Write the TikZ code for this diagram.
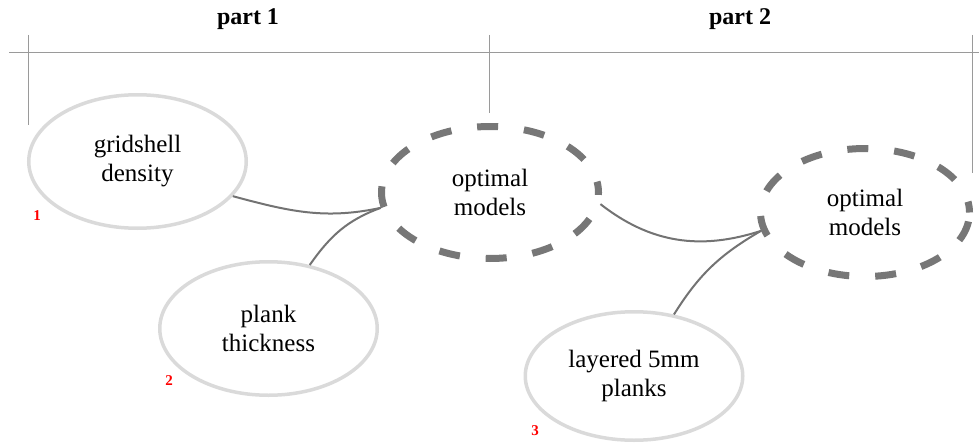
\documentclass[tikz,border=0pt]{standalone}
\usepackage{fontspec}
\setmainfont{Liberation Serif}
\usetikzlibrary{shapes.geometric}
\definecolor{lightring}{HTML}{DADADA}
\definecolor{darkring}{HTML}{777777}
\definecolor{linkgray}{HTML}{737373}
\definecolor{rulegray}{HTML}{9A9A9A}
\begin{document}
\begin{tikzpicture}[x=1pt,y=1pt,
  inputnode/.style={ellipse, draw=lightring, line width=3.5pt, inner sep=0pt,
    minimum width=217.5pt, minimum height=133.5pt, align=center,
    font=\fontsize{25}{29}\selectfont},
  resultnode/.style={ellipse, draw=darkring, line width=7pt, inner sep=0pt,
    dash pattern=on 21pt off 26pt, dash phase=10pt, align=center,
    font=\fontsize{25}{29}\selectfont},
  linkline/.style={draw=linkgray, line width=2pt},
  ruleline/.style={draw=rulegray, line width=0.9pt},
  partlabel/.style={font=\fontsize{24}{28}\selectfont\bfseries},
  numlabel/.style={text=red, font=\fontsize{15}{17}\selectfont\bfseries, inner sep=0pt}
]
\useasboundingbox (0,0) rectangle (979,-444);

% rules
\coordinate (hl) at (9,-52);
\coordinate (hr) at (979,-52);
\coordinate (v1t) at (28,-35);
\coordinate (v1b) at (28,-125);
\coordinate (v2t) at (489,-35);
\coordinate (v2b) at (489,-113);
\coordinate (v3t) at (972,-35);
\coordinate (v3b) at (972,-173);
\draw[ruleline] (hl) -- (hr);
\draw[ruleline] (v1t) -- (v1b);
\draw[ruleline] (v2t) -- (v2b);
\draw[ruleline] (v3t) -- (v3b);

\node[partlabel] (p1) at (248,-19) {part 1};
\node[partlabel] (p2) at (740,-19) {part 2};

% nodes
\node[inputnode] (grid) at (137.5,-161.5) {gridshell\\density};
\node[inputnode] (plank) at (268.5,-328.5) {plank\\thickness};
\node[inputnode, minimum height=128.5pt] (layer) at (634,-376) {layered 5mm\\planks};
\node[resultnode, minimum width=217pt, minimum height=132pt] (optA) at (490,-192.5) {optimal\\models};
\node[resultnode, minimum width=209pt, minimum height=128pt] (optB) at (865,-212.5) {optimal\\models};

% numbers
\node[numlabel] (n1) at (37,-216) {1};
\node[numlabel] (n2) at (169,-381) {2};
\node[numlabel] (n3) at (535,-431) {3};

% connectors
\draw[linkline] (grid.-20) to[out=-15, in=192] (optA.188);
\draw[linkline] (plank.57) to[out=55, in=200] (optA.188);
\draw[linkline] (optA.-6) to[out=-38, in=198] (optB.190);
\draw[linkline] (layer.57) to[out=58, in=210] (optB.190);
\end{tikzpicture}
\end{document}
